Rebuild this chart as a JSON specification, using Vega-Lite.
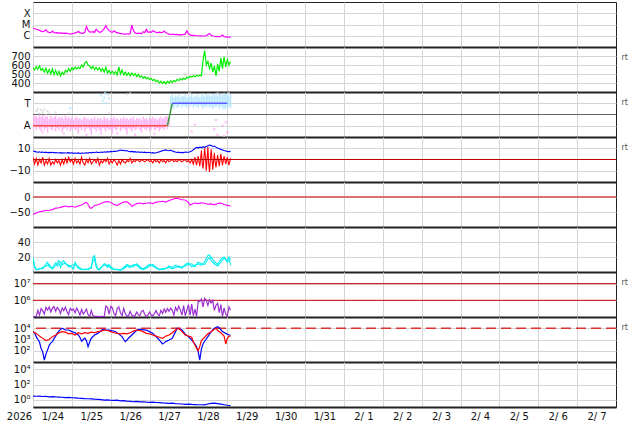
{
"$schema": "https://vega.github.io/schema/vega-lite/v6.json",
"background": "white",
"padding": {"left": 5, "top": 1, "right": 4, "bottom": 0},
"spacing": 0,
"bounds": "flush",
"config": {
 "font": "DejaVu Sans",
 "view": {"stroke": "#222", "strokeWidth": 1},
 "axis": {"labelFont": "DejaVu Sans", "labelFontSize": 10, "labelColor": "#111", "gridColor": "#d4d4d4", "gridWidth": 1, "ticks": false, "tickSize": 0, "labelOverlap": false, "titleFont": "DejaVu Sans"},
 "axisX": {"domain": true, "domainColor": "#222", "domainWidth": 2, "labels": false, "grid": true, "labelFlush": false},
 "axisY": {"domain": false, "labelPadding": 3, "grid": true}
},
"vconcat": [
 {"width": 583, "height": 45,
  "data": {"values": [
{"h":0,"v":4.6e-6},{"h":1,"v":4.2e-6},{"h":2,"v":3.8e-6},{"h":3,"v":3.4e-6},{"h":4,"v":3.0e-6},{"h":5,"v":2.6e-6},{"h":6,"v":2.3e-6},{"h":7,"v":2.5e-6},{"h":8,"v":3.5e-6},{"h":9,"v":2.2e-6},{"h":10,"v":2.0e-6},{"h":11,"v":1.9e-6},{"h":12,"v":2.6e-6},{"h":13,"v":1.9e-6},{"h":14,"v":1.8e-6},{"h":15,"v":1.9e-6},{"h":16,"v":1.7e-6},{"h":17,"v":1.8e-6},{"h":18,"v":1.7e-6},{"h":19,"v":1.6e-6},{"h":20,"v":1.7e-6},{"h":21,"v":1.6e-6},{"h":22,"v":1.5e-6},{"h":23,"v":1.4e-6},{"h":24,"v":1.5e-6},{"h":25,"v":1.6e-6},{"h":26,"v":1.8e-6},{"h":27,"v":2.0e-6},{"h":28,"v":2.4e-6},{"h":29,"v":1.9e-6},{"h":30,"v":1.6e-6},{"h":31,"v":1.7e-6},{"h":32,"v":2.0e-6},{"h":33,"v":6.5e-6},{"h":34,"v":3.0e-6},{"h":35,"v":2.2e-6},{"h":36,"v":2.1e-6},{"h":37,"v":2.3e-6},{"h":38,"v":2.0e-6},{"h":39,"v":3.7e-6},{"h":40,"v":2.6e-6},{"h":41,"v":2.0e-6},{"h":42,"v":2.2e-6},{"h":43,"v":3.0e-6},{"h":44,"v":4.2e-6},{"h":45,"v":7.9e-6},{"h":46,"v":4.0e-6},{"h":47,"v":3.0e-6},{"h":48,"v":2.3e-6},{"h":49,"v":2.0e-6},{"h":50,"v":2.8e-6},{"h":51,"v":2.1e-6},{"h":52,"v":1.9e-6},{"h":53,"v":1.7e-6},{"h":54,"v":1.6e-6},{"h":55,"v":1.5e-6},{"h":56,"v":1.4e-6},{"h":57,"v":1.4e-6},{"h":58,"v":1.5e-6},{"h":59,"v":1.4e-6},{"h":60,"v":1.6e-6},{"h":61,"v":9.0e-6},{"h":62,"v":3.0e-6},{"h":63,"v":1.8e-6},{"h":64,"v":1.6e-6},{"h":65,"v":1.6e-6},{"h":66,"v":1.7e-6},{"h":67,"v":1.5e-6},{"h":68,"v":2.3e-6},{"h":69,"v":1.9e-6},{"h":70,"v":3.7e-6},{"h":71,"v":2.0e-6},{"h":72,"v":2.2e-6},{"h":73,"v":2.0e-6},{"h":74,"v":2.8e-6},{"h":75,"v":2.4e-6},{"h":76,"v":2.0e-6},{"h":77,"v":1.9e-6},{"h":78,"v":2.1e-6},{"h":79,"v":1.9e-6},{"h":80,"v":2.0e-6},{"h":81,"v":2.6e-6},{"h":82,"v":1.9e-6},{"h":83,"v":1.6e-6},{"h":84,"v":1.4e-6},{"h":85,"v":1.3e-6},{"h":86,"v":1.35e-6},{"h":87,"v":1.3e-6},{"h":88,"v":1.25e-6},{"h":89,"v":1.3e-6},{"h":90,"v":1.2e-6},{"h":91,"v":1.25e-6},{"h":92,"v":1.2e-6},{"h":93,"v":1.3e-6},{"h":94,"v":1.4e-6},{"h":95,"v":2.8e-6},{"h":96,"v":1.5e-6},{"h":97,"v":1.2e-6},{"h":98,"v":1.1e-6},{"h":99,"v":1.1e-6},{"h":100,"v":1.05e-6},{"h":101,"v":1.0e-6},{"h":102,"v":1.0e-6},{"h":103,"v":0.95e-6},{"h":104,"v":1.0e-6},{"h":105,"v":0.95e-6},{"h":106,"v":0.95e-6},{"h":107,"v":1.0e-6},{"h":108,"v":1.3e-6},{"h":109,"v":1.6e-6},{"h":110,"v":1.1e-6},{"h":111,"v":0.95e-6},{"h":112,"v":0.9e-6},{"h":113,"v":0.85e-6},{"h":114,"v":0.85e-6},{"h":115,"v":0.85e-6},{"h":116,"v":0.9e-6},{"h":117,"v":1.15e-6},{"h":118,"v":0.85e-6},{"h":119,"v":0.8e-6},{"h":120,"v":0.75e-6},{"h":121,"v":0.75e-6},{"h":122,"v":0.72e-6}
  ]},
  "mark": {"type": "line", "color": "#f0f", "strokeWidth": 1.2, "clip": true},
  "encoding": {
   "x": {"field": "h", "type": "quantitative", "scale": {"domain": [0, 360], "nice": false, "zero": false}, "title": null, "axis": {"values": [0,24,48,72,96,120,144,168,192,216,240,264,288,312,336]}},
   "y": {"field": "v", "type": "quantitative", "title": null, "scale": {"type": "log", "domain": [1e-7, 1e-3], "nice": false}, "axis": {"values": [1e-6, 1e-5, 1e-4], "labelExpr": "datum.value < 5e-6 ? 'C' : datum.value < 5e-5 ? 'M' : 'X'"}}
  }
 },
 {"width": 583, "height": 45,
  "data": {"values": [
{"h":0,"v":570},{"h":1,"v":545},{"h":2,"v":580},{"h":3,"v":555},{"h":4,"v":590},{"h":5,"v":540},{"h":6,"v":560},{"h":7,"v":520},{"h":8,"v":565},{"h":9,"v":510},{"h":10,"v":550},{"h":11,"v":500},{"h":12,"v":555},{"h":13,"v":495},{"h":14,"v":540},{"h":15,"v":490},{"h":16,"v":530},{"h":17,"v":480},{"h":18,"v":520},{"h":19,"v":495},{"h":20,"v":540},{"h":21,"v":520},{"h":22,"v":560},{"h":23,"v":530},{"h":24,"v":570},{"h":25,"v":545},{"h":26,"v":580},{"h":27,"v":555},{"h":28,"v":575},{"h":29,"v":560},{"h":30,"v":600},{"h":31,"v":580},{"h":32,"v":625},{"h":33,"v":640},{"h":34,"v":600},{"h":35,"v":590},{"h":36,"v":560},{"h":37,"v":585},{"h":38,"v":550},{"h":39,"v":575},{"h":40,"v":545},{"h":41,"v":570},{"h":42,"v":530},{"h":43,"v":560},{"h":44,"v":520},{"h":45,"v":575},{"h":46,"v":510},{"h":47,"v":540},{"h":48,"v":505},{"h":49,"v":530},{"h":50,"v":500},{"h":51,"v":525},{"h":52,"v":490},{"h":53,"v":580},{"h":54,"v":500},{"h":55,"v":545},{"h":56,"v":490},{"h":57,"v":520},{"h":58,"v":485},{"h":59,"v":515},{"h":60,"v":480},{"h":61,"v":510},{"h":62,"v":485},{"h":63,"v":505},{"h":64,"v":470},{"h":65,"v":495},{"h":66,"v":465},{"h":67,"v":480},{"h":68,"v":455},{"h":69,"v":470},{"h":70,"v":445},{"h":71,"v":460},{"h":72,"v":440},{"h":73,"v":450},{"h":74,"v":425},{"h":75,"v":440},{"h":76,"v":415},{"h":77,"v":430},{"h":78,"v":400},{"h":79,"v":420},{"h":80,"v":395},{"h":81,"v":415},{"h":82,"v":390},{"h":83,"v":420},{"h":84,"v":400},{"h":85,"v":425},{"h":86,"v":405},{"h":87,"v":430},{"h":88,"v":415},{"h":89,"v":440},{"h":90,"v":425},{"h":91,"v":450},{"h":92,"v":435},{"h":93,"v":455},{"h":94,"v":440},{"h":95,"v":465},{"h":96,"v":455},{"h":97,"v":475},{"h":98,"v":465},{"h":99,"v":480},{"h":100,"v":470},{"h":101,"v":485},{"h":102,"v":475},{"h":103,"v":490},{"h":104,"v":480},{"h":105,"v":650},{"h":106,"v":760},{"h":107,"v":600},{"h":108,"v":640},{"h":109,"v":560},{"h":110,"v":620},{"h":111,"v":520},{"h":112,"v":590},{"h":113,"v":480},{"h":114,"v":610},{"h":115,"v":530},{"h":116,"v":680},{"h":117,"v":560},{"h":118,"v":690},{"h":119,"v":580},{"h":120,"v":660},{"h":121,"v":600},{"h":122,"v":640}
  ]},
  "mark": {"type": "line", "color": "#00ee00", "strokeWidth": 1.2, "clip": true},
  "encoding": {
   "x": {"field": "h", "type": "quantitative", "scale": {"domain": [0, 360], "nice": false, "zero": false}, "title": null, "axis": {"values": [0,24,48,72,96,120,144,168,192,216,240,264,288,312,336]}},
   "y": {"field": "v", "type": "quantitative", "title": "rt", "scale": {"domain": [300, 800], "nice": false, "zero": false}, "axis": {"values": [400, 500, 600, 700], "titleAngle": 0, "titleX": 588, "titleY": 10, "titleAlign": "left", "titleBaseline": "middle", "titleFontSize": 8, "titleColor": "#555", "titleFontWeight": "normal"}}
  }
 },
 {"width": 583, "height": 45,
  "layer": [
   {"data": {"values": [{"v": 0}]},
    "mark": {"type": "rule", "color": "#666", "strokeWidth": 1},
    "encoding": {"y": {"field": "v", "type": "quantitative", "title": "rt", "scale": {"domain": [-2, 2], "nice": false, "zero": false}, "axis": {"values": [-1, 0, 1], "labelExpr": "datum.value > 0.5 ? 'T' : datum.value < -0.5 ? 'A' : ''", "titleAngle": 0, "titleX": 588, "titleY": 10, "titleAlign": "left", "titleBaseline": "middle", "titleFontSize": 8, "titleColor": "#555", "titleFontWeight": "normal"}}}},
   {"data": {"values": [
{"h":0,"lo":-1.3,"hi":-0.1},{"h":1,"lo":-1.1,"hi":-0.2},{"h":2,"lo":-1.4,"hi":-0.1},{"h":3,"lo":-1.0,"hi":-0.3},{"h":4,"lo":-1.3,"hi":-0.1},{"h":5,"lo":-1.5,"hi":-0.2},{"h":6,"lo":-1.1,"hi":-0.05},{"h":7,"lo":-1.4,"hi":-0.3},{"h":8,"lo":-1.2,"hi":-0.1},{"h":9,"lo":-1.6,"hi":-0.2},{"h":10,"lo":-1.0,"hi":-0.4},{"h":11,"lo":-1.3,"hi":-0.1},{"h":12,"lo":-1.4,"hi":-0.3},{"h":13,"lo":-1.1,"hi":-0.2},{"h":14,"lo":-1.5,"hi":-0.1},{"h":15,"lo":-1.2,"hi":-0.4},{"h":16,"lo":-1.4,"hi":-0.2},{"h":17,"lo":-1.1,"hi":-0.3},{"h":18,"lo":-1.6,"hi":-0.2},{"h":19,"lo":-1.3,"hi":-0.4},{"h":20,"lo":-1.2,"hi":-0.1},{"h":21,"lo":-1.4,"hi":-0.3},{"h":22,"lo":-1.1,"hi":-0.2},{"h":23,"lo":-1.5,"hi":-0.4},{"h":24,"lo":-1.3,"hi":-0.2},{"h":25,"lo":-1.2,"hi":-0.5},{"h":26,"lo":-1.4,"hi":-0.3},{"h":27,"lo":-1.3,"hi":-0.2},{"h":28,"lo":-1.7,"hi":-0.4},{"h":29,"lo":-1.2,"hi":-0.3},{"h":30,"lo":-1.4,"hi":-0.5},{"h":31,"lo":-1.1,"hi":-0.3},{"h":32,"lo":-1.5,"hi":-0.2},{"h":33,"lo":-1.3,"hi":-0.4},{"h":34,"lo":-1.2,"hi":-0.3},{"h":35,"lo":-1.4,"hi":-0.5},{"h":36,"lo":-1.8,"hi":-0.3},{"h":37,"lo":-1.2,"hi":-0.4},{"h":38,"lo":-1.3,"hi":-0.2},{"h":39,"lo":-1.5,"hi":-0.5},{"h":40,"lo":-1.2,"hi":-0.3},{"h":41,"lo":-1.4,"hi":-0.4},{"h":42,"lo":-1.8,"hi":-0.3},{"h":43,"lo":-1.2,"hi":-0.5},{"h":44,"lo":-1.3,"hi":-0.2},{"h":45,"lo":-1.5,"hi":-0.4},{"h":46,"lo":-1.2,"hi":-0.3},{"h":47,"lo":-1.4,"hi":-0.5},{"h":48,"lo":-1.3,"hi":-0.3},{"h":49,"lo":-1.7,"hi":-0.4},{"h":50,"lo":-1.2,"hi":-0.2},{"h":51,"lo":-1.4,"hi":-0.4},{"h":52,"lo":-1.3,"hi":-0.3},{"h":53,"lo":-1.1,"hi":-0.5},{"h":54,"lo":-1.5,"hi":-0.3},{"h":55,"lo":-1.3,"hi":-0.4},{"h":56,"lo":-1.2,"hi":-0.2},{"h":57,"lo":-1.4,"hi":-0.4},{"h":58,"lo":-1.8,"hi":-0.3},{"h":59,"lo":-1.2,"hi":-0.5},{"h":60,"lo":-1.3,"hi":-0.3},{"h":61,"lo":-1.5,"hi":-0.4},{"h":62,"lo":-1.2,"hi":-0.2},{"h":63,"lo":-1.4,"hi":-0.5},{"h":64,"lo":-1.3,"hi":-0.3},{"h":65,"lo":-1.1,"hi":-0.4},{"h":66,"lo":-1.4,"hi":-0.3},{"h":67,"lo":-1.6,"hi":-0.5},{"h":68,"lo":-1.2,"hi":-0.2},{"h":69,"lo":-1.3,"hi":-0.4},{"h":70,"lo":-1.4,"hi":-0.3},{"h":71,"lo":-1.2,"hi":-0.5},{"h":72,"lo":-1.5,"hi":-0.3},{"h":73,"lo":-1.3,"hi":-0.4},{"h":74,"lo":-1.1,"hi":-0.2},{"h":75,"lo":-1.4,"hi":-0.4},{"h":76,"lo":-1.3,"hi":-0.3},{"h":77,"lo":-1.2,"hi":-0.5},{"h":78,"lo":-1.5,"hi":-0.3},{"h":79,"lo":-1.3,"hi":-0.2},{"h":80,"lo":-1.2,"hi":-0.4},{"h":81,"lo":-1.4,"hi":-0.3},{"h":82,"lo":-1.1,"hi":-0.1},{"h":83,"lo":-1.3,"hi":-0.2},{"h":84,"lo":-1.0,"hi":-0.3}
    ]},
    "mark": {"type": "rule", "color": "#ffaaf5", "strokeWidth": 1.4, "opacity": 0.9, "clip": true},
    "encoding": {
     "x": {"field": "h", "type": "quantitative", "scale": {"domain": [0, 360], "nice": false, "zero": false}, "title": null, "axis": {"values": [0,24,48,72,96,120,144,168,192,216,240,264,288,312,336]}},
     "y": {"field": "lo", "type": "quantitative", "title": "rt", "scale": {"domain": [-2, 2], "nice": false, "zero": false}},
     "y2": {"field": "hi"}}},
   {"data": {"values": [
{"h":85,"lo":0.6,"hi":1.6},{"h":86,"lo":0.7,"hi":1.8},{"h":87,"lo":0.5,"hi":1.5},{"h":88,"lo":0.8,"hi":1.7},{"h":89,"lo":0.6,"hi":1.6},{"h":90,"lo":0.7,"hi":1.8},{"h":91,"lo":0.9,"hi":1.5},{"h":92,"lo":0.6,"hi":1.7},{"h":93,"lo":0.8,"hi":1.6},{"h":94,"lo":0.7,"hi":1.8},{"h":95,"lo":0.6,"hi":1.5},{"h":96,"lo":0.8,"hi":1.7},{"h":97,"lo":0.7,"hi":1.6},{"h":98,"lo":0.9,"hi":1.8},{"h":99,"lo":0.6,"hi":1.5},{"h":100,"lo":0.8,"hi":1.7},{"h":101,"lo":0.7,"hi":1.6},{"h":102,"lo":0.6,"hi":1.8},{"h":103,"lo":0.8,"hi":1.5},{"h":104,"lo":0.7,"hi":1.7},{"h":105,"lo":0.5,"hi":1.9},{"h":106,"lo":0.7,"hi":1.6},{"h":107,"lo":0.6,"hi":1.8},{"h":108,"lo":0.8,"hi":1.7},{"h":109,"lo":0.6,"hi":1.9},{"h":110,"lo":0.7,"hi":1.6},{"h":111,"lo":0.5,"hi":1.8},{"h":112,"lo":0.7,"hi":1.7},{"h":113,"lo":0.6,"hi":1.9},{"h":114,"lo":0.8,"hi":1.6},{"h":115,"lo":0.5,"hi":1.8},{"h":116,"lo":0.7,"hi":1.9},{"h":117,"lo":0.6,"hi":1.7},{"h":118,"lo":0.4,"hi":1.9},{"h":119,"lo":0.6,"hi":1.8},{"h":120,"lo":0.5,"hi":1.9},{"h":121,"lo":0.7,"hi":1.7},{"h":122,"lo":0.6,"hi":1.8}
    ]},
    "mark": {"type": "rule", "color": "#b0e4ff", "strokeWidth": 1.4, "opacity": 0.9, "clip": true},
    "encoding": {
     "x": {"field": "h", "type": "quantitative", "scale": {"domain": [0, 360], "nice": false, "zero": false}, "title": null, "axis": {"values": [0,24,48,72,96,120,144,168,192,216,240,264,288,312,336]}},
     "y": {"field": "lo", "type": "quantitative", "title": "rt", "scale": {"domain": [-2, 2], "nice": false, "zero": false}},
     "y2": {"field": "hi"}}},
   {"data": {"values": [
{"h":2,"v":0.3},{"h":3,"v":0.5},{"h":4,"v":0.1},{"h":5,"v":0.4},{"h":6,"v":0.2},{"h":7,"v":0.45},{"h":8,"v":0.0},{"h":9,"v":0.3},{"h":10,"v":0.1},{"h":14,"v":0.2},{"h":22,"v":0.1},{"h":47,"v":0.1},{"h":58,"v":1.8},{"h":60,"v":1.9},{"h":97,"v":1.9},{"h":114,"v":1.9},{"h":118,"v":1.85},{"h":121,"v":1.9}
    ]},
    "mark": {"type": "square", "color": "#cfcfcf", "size": 4, "clip": true},
    "encoding": {
     "x": {"field": "h", "type": "quantitative", "scale": {"domain": [0, 360], "nice": false, "zero": false}, "title": null, "axis": {"values": [0,24,48,72,96,120,144,168,192,216,240,264,288,312,336]}},
     "y": {"field": "v", "type": "quantitative", "title": "rt", "scale": {"domain": [-2, 2], "nice": false, "zero": false}}}},
   {"data": {"values": [
{"h":23,"v":0.55},{"h":42,"v":1.7},{"h":43,"v":1.2},{"h":44,"v":1.5},{"h":44.5,"v":1.9},{"h":45,"v":1.0},{"h":46,"v":1.8},{"h":47,"v":1.4}
    ]},
    "mark": {"type": "square", "color": "#a6e2ff", "size": 5, "clip": true},
    "encoding": {
     "x": {"field": "h", "type": "quantitative", "scale": {"domain": [0, 360], "nice": false, "zero": false}, "title": null, "axis": {"values": [0,24,48,72,96,120,144,168,192,216,240,264,288,312,336]}},
     "y": {"field": "v", "type": "quantitative", "title": "rt", "scale": {"domain": [-2, 2], "nice": false, "zero": false}}}},
   {"data": {"values": [
{"h":6,"v":-1.6},{"h":19,"v":-1.7},{"h":33,"v":-1.8},{"h":52,"v":-1.7},{"h":63,"v":-1.8},{"h":75,"v":-1.7},{"h":98,"v":-1.5},{"h":100,"v":-0.9},{"h":112,"v":-1.3},{"h":113,"v":-0.5},{"h":114,"v":-1.8},{"h":117,"v":-1.0},{"h":118,"v":-1.9},{"h":119,"v":-0.7},{"h":120,"v":-1.6}
    ]},
    "mark": {"type": "square", "color": "#ffaaf5", "size": 5, "clip": true},
    "encoding": {
     "x": {"field": "h", "type": "quantitative", "scale": {"domain": [0, 360], "nice": false, "zero": false}, "title": null, "axis": {"values": [0,24,48,72,96,120,144,168,192,216,240,264,288,312,336]}},
     "y": {"field": "v", "type": "quantitative", "title": "rt", "scale": {"domain": [-2, 2], "nice": false, "zero": false}}}},
   {"data": {"values": [{"h":0,"v":-1},{"h":83,"v":-1}]},
    "mark": {"type": "line", "color": "#ff4a4a", "strokeWidth": 1.5},
    "encoding": {
     "x": {"field": "h", "type": "quantitative", "scale": {"domain": [0, 360], "nice": false, "zero": false}, "title": null, "axis": {"values": [0,24,48,72,96,120,144,168,192,216,240,264,288,312,336]}},
     "y": {"field": "v", "type": "quantitative", "title": "rt", "scale": {"domain": [-2, 2], "nice": false, "zero": false}}}},
   {"data": {"values": [{"h":83,"v":-1},{"h":86,"v":1}]},
    "mark": {"type": "line", "color": "#3d9b3d", "strokeWidth": 1.5},
    "encoding": {
     "x": {"field": "h", "type": "quantitative", "scale": {"domain": [0, 360], "nice": false, "zero": false}, "title": null, "axis": {"values": [0,24,48,72,96,120,144,168,192,216,240,264,288,312,336]}},
     "y": {"field": "v", "type": "quantitative", "title": "rt", "scale": {"domain": [-2, 2], "nice": false, "zero": false}}}},
   {"data": {"values": [{"h":86,"v":1},{"h":120,"v":1}]},
    "mark": {"type": "line", "color": "#5a5aff", "strokeWidth": 1.5},
    "encoding": {
     "x": {"field": "h", "type": "quantitative", "scale": {"domain": [0, 360], "nice": false, "zero": false}, "title": null, "axis": {"values": [0,24,48,72,96,120,144,168,192,216,240,264,288,312,336]}},
     "y": {"field": "v", "type": "quantitative", "title": "rt", "scale": {"domain": [-2, 2], "nice": false, "zero": false}}}}
  ]
 },
 {"width": 583, "height": 45,
  "layer": [
   {"data": {"values": [
{"h":0,"v":7.5},{"h":1,"v":7.2},{"h":2,"v":6.8},{"h":3,"v":6.5},{"h":4,"v":6.8},{"h":5,"v":6.3},{"h":6,"v":6.6},{"h":7,"v":6.2},{"h":8,"v":6.5},{"h":9,"v":6.0},{"h":10,"v":6.3},{"h":11,"v":6.1},{"h":12,"v":6.4},{"h":13,"v":5.9},{"h":14,"v":6.2},{"h":15,"v":6.0},{"h":16,"v":5.8},{"h":17,"v":6.1},{"h":18,"v":5.7},{"h":19,"v":6.0},{"h":20,"v":5.8},{"h":21,"v":5.9},{"h":22,"v":6.1},{"h":23,"v":5.7},{"h":24,"v":6.0},{"h":25,"v":5.5},{"h":26,"v":5.8},{"h":27,"v":5.6},{"h":28,"v":5.9},{"h":29,"v":5.4},{"h":30,"v":5.7},{"h":31,"v":5.5},{"h":32,"v":5.8},{"h":33,"v":6.0},{"h":34,"v":5.7},{"h":35,"v":6.2},{"h":36,"v":5.9},{"h":37,"v":6.4},{"h":38,"v":6.0},{"h":39,"v":6.6},{"h":40,"v":6.3},{"h":41,"v":6.2},{"h":42,"v":6.6},{"h":43,"v":6.3},{"h":44,"v":6.8},{"h":45,"v":6.5},{"h":46,"v":7.0},{"h":47,"v":6.7},{"h":48,"v":7.2},{"h":49,"v":6.9},{"h":50,"v":7.4},{"h":51,"v":7.1},{"h":52,"v":7.6},{"h":53,"v":7.9},{"h":54,"v":8.4},{"h":55,"v":8.0},{"h":56,"v":8.2},{"h":57,"v":7.6},{"h":58,"v":7.9},{"h":59,"v":7.3},{"h":60,"v":7.0},{"h":61,"v":7.2},{"h":62,"v":6.8},{"h":63,"v":7.0},{"h":64,"v":6.5},{"h":65,"v":6.8},{"h":66,"v":6.3},{"h":67,"v":6.6},{"h":68,"v":6.2},{"h":69,"v":6.5},{"h":70,"v":6.0},{"h":71,"v":6.4},{"h":72,"v":6.2},{"h":73,"v":5.8},{"h":74,"v":6.1},{"h":75,"v":5.7},{"h":76,"v":6.0},{"h":77,"v":6.5},{"h":78,"v":6.8},{"h":79,"v":7.4},{"h":80,"v":7.9},{"h":81,"v":8.2},{"h":82,"v":8.5},{"h":83,"v":8.0},{"h":84,"v":7.8},{"h":85,"v":8.3},{"h":86,"v":7.6},{"h":87,"v":7.0},{"h":88,"v":6.6},{"h":89,"v":6.2},{"h":90,"v":6.5},{"h":91,"v":6.0},{"h":92,"v":6.3},{"h":93,"v":6.1},{"h":94,"v":6.6},{"h":95,"v":6.4},{"h":96,"v":6.5},{"h":97,"v":6.8},{"h":98,"v":7.5},{"h":99,"v":8.5},{"h":100,"v":9.8},{"h":101,"v":10.8},{"h":102,"v":10.4},{"h":103,"v":11.0},{"h":104,"v":10.6},{"h":105,"v":11.2},{"h":106,"v":10.8},{"h":107,"v":11.5},{"h":108,"v":12.2},{"h":109,"v":12.8},{"h":110,"v":12.4},{"h":111,"v":11.6},{"h":112,"v":12.0},{"h":113,"v":11.0},{"h":114,"v":10.2},{"h":115,"v":9.5},{"h":116,"v":9.0},{"h":117,"v":8.5},{"h":118,"v":8.0},{"h":119,"v":7.6},{"h":120,"v":7.2},{"h":121,"v":7.0},{"h":122,"v":7.2}
    ]},
    "mark": {"type": "line", "color": "#0000ff", "strokeWidth": 1.1, "clip": true},
    "encoding": {
     "x": {"field": "h", "type": "quantitative", "scale": {"domain": [0, 360], "nice": false, "zero": false}, "title": null, "axis": {"values": [0,24,48,72,96,120,144,168,192,216,240,264,288,312,336]}},
     "y": {"field": "v", "type": "quantitative", "title": "rt", "scale": {"domain": [-20, 20], "nice": false, "zero": false}, "axis": {"values": [-10, 0, 10], "titleAngle": 0, "titleX": 588, "titleY": 10, "titleAlign": "left", "titleBaseline": "middle", "titleFontSize": 8, "titleColor": "#555", "titleFontWeight": "normal"}}}},
   {"data": {"values": [
{"h":0,"v":2},{"h":1,"v":-4},{"h":2,"v":1},{"h":3,"v":-5},{"h":4,"v":0},{"h":5,"v":-3},{"h":6,"v":2},{"h":7,"v":-5},{"h":8,"v":-1},{"h":9,"v":-4},{"h":10,"v":1},{"h":11,"v":-5},{"h":12,"v":-2},{"h":13,"v":-4},{"h":14,"v":0},{"h":15,"v":-3},{"h":16,"v":-1},{"h":17,"v":-5},{"h":18,"v":0},{"h":19,"v":-4},{"h":20,"v":1},{"h":21,"v":-3},{"h":22,"v":2},{"h":23,"v":-2},{"h":24,"v":0},{"h":25,"v":-4},{"h":26,"v":1},{"h":27,"v":-3},{"h":28,"v":-1},{"h":29,"v":-4},{"h":30,"v":2},{"h":31,"v":-3},{"h":32,"v":-5},{"h":33,"v":0},{"h":34,"v":-3},{"h":35,"v":1},{"h":36,"v":-4},{"h":37,"v":-2},{"h":38,"v":0},{"h":39,"v":-3},{"h":40,"v":1},{"h":41,"v":-5},{"h":42,"v":-1},{"h":43,"v":-3},{"h":44,"v":0},{"h":45,"v":-2},{"h":46,"v":1},{"h":47,"v":-4},{"h":48,"v":-1},{"h":49,"v":-3},{"h":50,"v":0},{"h":51,"v":-2},{"h":52,"v":-5},{"h":53,"v":-1},{"h":54,"v":-4},{"h":55,"v":0},{"h":56,"v":-2},{"h":57,"v":-3},{"h":58,"v":-1},{"h":59,"v":-2},{"h":60,"v":1},{"h":61,"v":-3},{"h":62,"v":-1},{"h":63,"v":-2},{"h":64,"v":0},{"h":65,"v":-1},{"h":66,"v":-2},{"h":67,"v":0},{"h":68,"v":-1},{"h":69,"v":-2},{"h":70,"v":-1},{"h":71,"v":0},{"h":72,"v":-2},{"h":73,"v":-1},{"h":74,"v":-3},{"h":75,"v":0},{"h":76,"v":-2},{"h":77,"v":-1},{"h":78,"v":-3},{"h":79,"v":0},{"h":80,"v":-2},{"h":81,"v":-1},{"h":82,"v":-3},{"h":83,"v":0},{"h":84,"v":-2},{"h":85,"v":-1},{"h":86,"v":0},{"h":87,"v":-2},{"h":88,"v":-1},{"h":89,"v":-2},{"h":90,"v":0},{"h":91,"v":-1},{"h":92,"v":-2},{"h":93,"v":-1},{"h":94,"v":0},{"h":95,"v":-2},{"h":96,"v":-1},{"h":97,"v":-3},{"h":98,"v":0},{"h":99,"v":-4},{"h":100,"v":2},{"h":101,"v":-5},{"h":102,"v":3},{"h":103,"v":-6},{"h":104,"v":8},{"h":104.5,"v":-3},{"h":105,"v":-8},{"h":106,"v":10},{"h":106.5,"v":2},{"h":107,"v":-10},{"h":108,"v":11},{"h":108.5,"v":-4},{"h":109,"v":-11},{"h":110,"v":9},{"h":110.5,"v":1},{"h":111,"v":-9},{"h":112,"v":6},{"h":112.5,"v":-2},{"h":113,"v":-7},{"h":114,"v":4},{"h":115,"v":-6},{"h":116,"v":5},{"h":117,"v":-5},{"h":118,"v":3},{"h":119,"v":-4},{"h":120,"v":2},{"h":121,"v":-5},{"h":122,"v":1}
    ]},
    "mark": {"type": "line", "color": "#ff0000", "strokeWidth": 1.1, "clip": true},
    "encoding": {
     "x": {"field": "h", "type": "quantitative", "scale": {"domain": [0, 360], "nice": false, "zero": false}, "title": null, "axis": {"values": [0,24,48,72,96,120,144,168,192,216,240,264,288,312,336]}},
     "y": {"field": "v", "type": "quantitative", "title": "rt", "scale": {"domain": [-20, 20], "nice": false, "zero": false}}}},
   {"data": {"values": [{"v": 0}]},
    "mark": {"type": "rule", "color": "#c00000", "strokeWidth": 1},
    "encoding": {"y": {"field": "v", "type": "quantitative", "title": "rt", "scale": {"domain": [-20, 20], "nice": false, "zero": false}}}}
  ]
 },
 {"width": 583, "height": 45,
  "layer": [
   {"data": {"values": [{"v": 0}]},
    "mark": {"type": "rule", "color": "#d87070", "strokeWidth": 2},
    "encoding": {"y": {"field": "v", "type": "quantitative", "title": null, "scale": {"domain": [-100, 50], "nice": false, "zero": false}, "axis": {"values": [-50, 0]}}}},
   {"data": {"values": [
{"h":0,"v":-58},{"h":2,"v":-53},{"h":4,"v":-49},{"h":6,"v":-47},{"h":8,"v":-45},{"h":10,"v":-44},{"h":12,"v":-42},{"h":14,"v":-37},{"h":16,"v":-36},{"h":18,"v":-33},{"h":20,"v":-30},{"h":22,"v":-33},{"h":24,"v":-31},{"h":26,"v":-34},{"h":28,"v":-30},{"h":30,"v":-27},{"h":32,"v":-20},{"h":33,"v":-18},{"h":34,"v":-24},{"h":35,"v":-35},{"h":36,"v":-38},{"h":37,"v":-33},{"h":38,"v":-28},{"h":40,"v":-26},{"h":42,"v":-22},{"h":44,"v":-17},{"h":46,"v":-15},{"h":48,"v":-18},{"h":50,"v":-25},{"h":52,"v":-28},{"h":54,"v":-22},{"h":56,"v":-17},{"h":58,"v":-16},{"h":60,"v":-24},{"h":61,"v":-31},{"h":62,"v":-28},{"h":64,"v":-22},{"h":66,"v":-20},{"h":68,"v":-23},{"h":70,"v":-21},{"h":72,"v":-19},{"h":74,"v":-22},{"h":76,"v":-17},{"h":78,"v":-16},{"h":80,"v":-14},{"h":82,"v":-17},{"h":84,"v":-12},{"h":86,"v":-8},{"h":88,"v":-4},{"h":90,"v":-6},{"h":92,"v":-9},{"h":94,"v":-10},{"h":96,"v":-18},{"h":97,"v":-27},{"h":98,"v":-24},{"h":100,"v":-20},{"h":102,"v":-22},{"h":104,"v":-19},{"h":106,"v":-21},{"h":108,"v":-24},{"h":110,"v":-23},{"h":112,"v":-26},{"h":114,"v":-22},{"h":116,"v":-20},{"h":118,"v":-25},{"h":120,"v":-28},{"h":122,"v":-30}
    ]},
    "mark": {"type": "line", "color": "#f0f", "strokeWidth": 1.1, "clip": true},
    "encoding": {
     "x": {"field": "h", "type": "quantitative", "scale": {"domain": [0, 360], "nice": false, "zero": false}, "title": null, "axis": {"values": [0,24,48,72,96,120,144,168,192,216,240,264,288,312,336]}},
     "y": {"field": "v", "type": "quantitative", "title": null, "scale": {"domain": [-100, 50], "nice": false, "zero": false}}}}
  ]
 },
 {"width": 583, "height": 45,
  "layer": [
   {"data": {"values": [
{"h":0,"v":20},{"h":1,"v":8},{"h":2,"v":4},{"h":3,"v":3},{"h":4,"v":5},{"h":6,"v":4},{"h":8,"v":11},{"h":9,"v":13},{"h":10,"v":7},{"h":12,"v":5},{"h":13,"v":9},{"h":14,"v":12},{"h":15,"v":8},{"h":16,"v":12},{"h":17,"v":6},{"h":18,"v":14},{"h":19,"v":15},{"h":20,"v":11},{"h":22,"v":9},{"h":24,"v":6},{"h":25,"v":4},{"h":26,"v":13},{"h":27,"v":9},{"h":28,"v":7},{"h":30,"v":4},{"h":32,"v":3},{"h":34,"v":4},{"h":36,"v":5},{"h":37,"v":20},{"h":38,"v":22},{"h":39,"v":10},{"h":40,"v":4},{"h":41,"v":3},{"h":43,"v":8},{"h":45,"v":9},{"h":46,"v":6},{"h":47,"v":10},{"h":48,"v":7},{"h":50,"v":4},{"h":52,"v":3},{"h":54,"v":3},{"h":56,"v":4},{"h":58,"v":8},{"h":60,"v":6},{"h":62,"v":10},{"h":64,"v":9},{"h":66,"v":5},{"h":68,"v":3},{"h":70,"v":5},{"h":72,"v":8},{"h":74,"v":10},{"h":76,"v":6},{"h":78,"v":4},{"h":80,"v":3},{"h":82,"v":5},{"h":84,"v":6},{"h":86,"v":4},{"h":88,"v":6},{"h":90,"v":8},{"h":92,"v":5},{"h":94,"v":10},{"h":96,"v":12},{"h":98,"v":7},{"h":100,"v":9},{"h":102,"v":11},{"h":104,"v":9},{"h":106,"v":14},{"h":108,"v":22},{"h":109,"v":23},{"h":110,"v":15},{"h":112,"v":11},{"h":114,"v":8},{"h":116,"v":13},{"h":118,"v":18},{"h":120,"v":16},{"h":121,"v":20},{"h":122,"v":9}
    ]},
    "mark": {"type": "line", "color": "#00f0f0", "strokeWidth": 1.1, "clip": true},
    "encoding": {
     "x": {"field": "h", "type": "quantitative", "scale": {"domain": [0, 360], "nice": false, "zero": false}, "title": null, "axis": {"values": [0,24,48,72,96,120,144,168,192,216,240,264,288,312,336]}},
     "y": {"field": "v", "type": "quantitative", "title": null, "scale": {"domain": [0, 60], "nice": false, "zero": false}, "axis": {"values": [20, 40]}}}},
   {"data": {"values": [
{"h":0,"v":18},{"h":1,"v":6},{"h":2,"v":3},{"h":4,"v":4},{"h":6,"v":6},{"h":8,"v":8},{"h":10,"v":10},{"h":12,"v":4},{"h":14,"v":9},{"h":16,"v":15},{"h":18,"v":10},{"h":20,"v":12},{"h":22,"v":7},{"h":24,"v":9},{"h":26,"v":10},{"h":28,"v":5},{"h":30,"v":3},{"h":32,"v":4},{"h":34,"v":3},{"h":36,"v":7},{"h":37,"v":14},{"h":38,"v":18},{"h":39,"v":7},{"h":40,"v":3},{"h":42,"v":6},{"h":44,"v":11},{"h":46,"v":9},{"h":48,"v":5},{"h":50,"v":3},{"h":52,"v":4},{"h":54,"v":2},{"h":56,"v":6},{"h":58,"v":10},{"h":60,"v":8},{"h":62,"v":7},{"h":64,"v":11},{"h":66,"v":7},{"h":68,"v":4},{"h":70,"v":7},{"h":72,"v":10},{"h":74,"v":8},{"h":76,"v":5},{"h":78,"v":3},{"h":80,"v":5},{"h":82,"v":4},{"h":84,"v":8},{"h":86,"v":6},{"h":88,"v":9},{"h":90,"v":6},{"h":92,"v":7},{"h":94,"v":8},{"h":96,"v":10},{"h":98,"v":11},{"h":100,"v":7},{"h":102,"v":13},{"h":104,"v":11},{"h":106,"v":10},{"h":108,"v":17},{"h":110,"v":20},{"h":112,"v":14},{"h":114,"v":10},{"h":116,"v":17},{"h":118,"v":20},{"h":120,"v":13},{"h":122,"v":18}
    ]},
    "mark": {"type": "line", "color": "#00f0f0", "strokeWidth": 1.1, "clip": true},
    "encoding": {
     "x": {"field": "h", "type": "quantitative", "scale": {"domain": [0, 360], "nice": false, "zero": false}, "title": null, "axis": {"values": [0,24,48,72,96,120,144,168,192,216,240,264,288,312,336]}},
     "y": {"field": "v", "type": "quantitative", "title": null, "scale": {"domain": [0, 60], "nice": false, "zero": false}}}}
  ]
 },
 {"width": 583, "height": 45,
  "layer": [
   {"data": {"values": [{"v": 1000000}, {"v": 10000000}]},
    "mark": {"type": "rule", "color": "#cc0000", "strokeWidth": 1},
    "encoding": {"y": {"field": "v", "type": "quantitative", "title": "rt", "scale": {"type": "log", "domain": [1e5, 5e7], "nice": false}, "axis": {"values": [1e6, 1e7], "labelExpr": "'10' + ['⁰','¹','²','³','⁴','⁵','⁶','⁷','⁸'][round(log(datum.value) / LN10)]", "titleAngle": 0, "titleX": 588, "titleY": 10, "titleAlign": "left", "titleBaseline": "middle", "titleFontSize": 8, "titleColor": "#555", "titleFontWeight": "normal"}}}},
   {"data": {"values": [
{"h":0,"v":105000},{"h":1,"v":105000},{"h":2,"v":110000},{"h":3,"v":250000},{"h":4,"v":130000},{"h":5,"v":320000},{"h":6,"v":240000},{"h":7,"v":150000},{"h":8,"v":380000},{"h":9,"v":260000},{"h":10,"v":400000},{"h":11,"v":200000},{"h":12,"v":350000},{"h":13,"v":420000},{"h":14,"v":220000},{"h":15,"v":380000},{"h":16,"v":290000},{"h":17,"v":160000},{"h":18,"v":350000},{"h":19,"v":240000},{"h":20,"v":390000},{"h":21,"v":210000},{"h":22,"v":140000},{"h":23,"v":330000},{"h":24,"v":250000},{"h":25,"v":300000},{"h":26,"v":180000},{"h":27,"v":340000},{"h":28,"v":220000},{"h":29,"v":130000},{"h":30,"v":280000},{"h":31,"v":150000},{"h":32,"v":200000},{"h":33,"v":300000},{"h":34,"v":140000},{"h":35,"v":110000},{"h":36,"v":250000},{"h":37,"v":120000},{"h":38,"v":110000},{"h":39,"v":110000},{"h":40,"v":110000},{"h":41,"v":105000},{"h":42,"v":110000},{"h":43,"v":105000},{"h":44,"v":110000},{"h":45,"v":450000},{"h":46,"v":380000},{"h":47,"v":150000},{"h":48,"v":430000},{"h":49,"v":350000},{"h":50,"v":160000},{"h":51,"v":120000},{"h":52,"v":320000},{"h":53,"v":400000},{"h":54,"v":180000},{"h":55,"v":120000},{"h":56,"v":330000},{"h":57,"v":160000},{"h":58,"v":110000},{"h":59,"v":120000},{"h":60,"v":220000},{"h":61,"v":130000},{"h":62,"v":110000},{"h":63,"v":120000},{"h":64,"v":200000},{"h":65,"v":140000},{"h":66,"v":120000},{"h":67,"v":220000},{"h":68,"v":250000},{"h":69,"v":140000},{"h":70,"v":110000},{"h":71,"v":130000},{"h":72,"v":200000},{"h":73,"v":130000},{"h":74,"v":120000},{"h":75,"v":160000},{"h":76,"v":240000},{"h":77,"v":150000},{"h":78,"v":120000},{"h":79,"v":250000},{"h":80,"v":160000},{"h":81,"v":300000},{"h":82,"v":190000},{"h":83,"v":320000},{"h":84,"v":220000},{"h":85,"v":340000},{"h":86,"v":250000},{"h":87,"v":130000},{"h":88,"v":380000},{"h":89,"v":240000},{"h":90,"v":450000},{"h":91,"v":260000},{"h":92,"v":130000},{"h":93,"v":480000},{"h":94,"v":120000},{"h":95,"v":250000},{"h":96,"v":550000},{"h":97,"v":130000},{"h":98,"v":600000},{"h":99,"v":120000},{"h":100,"v":300000},{"h":101,"v":110000},{"h":102,"v":900000},{"h":103,"v":850000},{"h":104,"v":1200000},{"h":105,"v":400000},{"h":106,"v":1300000},{"h":107,"v":1000000},{"h":108,"v":500000},{"h":109,"v":1100000},{"h":110,"v":700000},{"h":111,"v":1000000},{"h":112,"v":250000},{"h":113,"v":500000},{"h":114,"v":650000},{"h":115,"v":180000},{"h":116,"v":550000},{"h":117,"v":110000},{"h":118,"v":350000},{"h":119,"v":150000},{"h":120,"v":110000},{"h":121,"v":400000},{"h":122,"v":250000}
    ]},
    "mark": {"type": "line", "color": "#9b30d0", "strokeWidth": 1.2, "clip": true},
    "encoding": {
     "x": {"field": "h", "type": "quantitative", "scale": {"domain": [0, 360], "nice": false, "zero": false}, "title": null, "axis": {"values": [0,24,48,72,96,120,144,168,192,216,240,264,288,312,336]}},
     "y": {"field": "v", "type": "quantitative", "title": "rt", "scale": {"type": "log", "domain": [1e5, 5e7], "nice": false}}}}
  ]
 },
 {"width": 583, "height": 45,
  "layer": [
   {"data": {"values": [{"v": 10000}]},
    "mark": {"type": "rule", "color": "#dd3333", "strokeWidth": 1.5, "strokeDash": [10, 5]},
    "encoding": {"y": {"field": "v", "type": "quantitative", "title": "rt", "scale": {"type": "log", "domain": [10, 1e5], "nice": false}, "axis": {"values": [100, 1000, 10000], "labelExpr": "'10' + ['⁰','¹','²','³','⁴','⁵','⁶','⁷','⁸'][round(log(datum.value) / LN10)]", "titleAngle": 0, "titleX": 588, "titleY": 10, "titleAlign": "left", "titleBaseline": "middle", "titleFontSize": 8, "titleColor": "#555", "titleFontWeight": "normal"}}}},
   {"data": {"values": [
{"h":0,"v":4900},{"h":1,"v":4000},{"h":2,"v":1800},{"h":3,"v":1000},{"h":4,"v":600},{"h":5,"v":160},{"h":6,"v":80},{"h":7,"v":15},{"h":8,"v":50},{"h":9,"v":120},{"h":10,"v":300},{"h":11,"v":500},{"h":12,"v":650},{"h":13,"v":1200},{"h":14,"v":2000},{"h":15,"v":3500},{"h":16,"v":5500},{"h":17,"v":8000},{"h":18,"v":10000},{"h":20,"v":7000},{"h":22,"v":7000},{"h":24,"v":5000},{"h":26,"v":4000},{"h":28,"v":2500},{"h":29,"v":1500},{"h":30,"v":700},{"h":31,"v":1000},{"h":32,"v":1300},{"h":33,"v":800},{"h":34,"v":230},{"h":35,"v":600},{"h":36,"v":1300},{"h":38,"v":2500},{"h":40,"v":3500},{"h":42,"v":6000},{"h":43,"v":8000},{"h":45,"v":7000},{"h":47,"v":6900},{"h":49,"v":6000},{"h":51,"v":4900},{"h":53,"v":3000},{"h":55,"v":1800},{"h":56,"v":1000},{"h":57,"v":650},{"h":58,"v":900},{"h":59,"v":1300},{"h":61,"v":2500},{"h":63,"v":4900},{"h":65,"v":8000},{"h":67,"v":7500},{"h":70,"v":6900},{"h":72,"v":5000},{"h":74,"v":3500},{"h":76,"v":1800},{"h":78,"v":900},{"h":80,"v":400},{"h":81,"v":500},{"h":82,"v":650},{"h":84,"v":900},{"h":86,"v":1300},{"h":88,"v":5000},{"h":89,"v":10000},{"h":91,"v":8000},{"h":92,"v":6900},{"h":94,"v":3000},{"h":96,"v":1800},{"h":98,"v":900},{"h":100,"v":400},{"h":101,"v":230},{"h":102,"v":80},{"h":103,"v":15},{"h":104,"v":150},{"h":105,"v":400},{"h":106,"v":700},{"h":108,"v":1800},{"h":110,"v":5000},{"h":112,"v":10000},{"h":114,"v":14000},{"h":115,"v":11000},{"h":117,"v":5000},{"h":119,"v":3500},{"h":121,"v":2500},{"h":122,"v":2500}
    ]},
    "mark": {"type": "line", "color": "#0000ff", "strokeWidth": 1.2, "clip": true},
    "encoding": {
     "x": {"field": "h", "type": "quantitative", "scale": {"domain": [0, 360], "nice": false, "zero": false}, "title": null, "axis": {"values": [0,24,48,72,96,120,144,168,192,216,240,264,288,312,336]}},
     "y": {"field": "v", "type": "quantitative", "title": "rt", "scale": {"type": "log", "domain": [10, 1e5], "nice": false}}}},
   {"data": {"values": [
{"h":0,"v":4900},{"h":2,"v":3500},{"h":4,"v":2000},{"h":6,"v":1260},{"h":8,"v":800},{"h":10,"v":1000},{"h":12,"v":1800},{"h":14,"v":2500},{"h":16,"v":4000},{"h":18,"v":5000},{"h":20,"v":4500},{"h":22,"v":3200},{"h":24,"v":3500},{"h":26,"v":2500},{"h":28,"v":4000},{"h":30,"v":3200},{"h":32,"v":4000},{"h":34,"v":3500},{"h":36,"v":4500},{"h":38,"v":4000},{"h":40,"v":5000},{"h":42,"v":5600},{"h":44,"v":7000},{"h":46,"v":6300},{"h":48,"v":5000},{"h":50,"v":4000},{"h":52,"v":3500},{"h":54,"v":3200},{"h":56,"v":3500},{"h":58,"v":3200},{"h":60,"v":4000},{"h":62,"v":5600},{"h":64,"v":7000},{"h":66,"v":6300},{"h":68,"v":5000},{"h":70,"v":3500},{"h":72,"v":3200},{"h":74,"v":2500},{"h":76,"v":2000},{"h":78,"v":1600},{"h":80,"v":1260},{"h":82,"v":2000},{"h":84,"v":2500},{"h":86,"v":4000},{"h":88,"v":7000},{"h":90,"v":10000},{"h":92,"v":5000},{"h":94,"v":2500},{"h":96,"v":2000},{"h":98,"v":1600},{"h":99,"v":630},{"h":100,"v":320},{"h":101,"v":160},{"h":102,"v":100},{"h":103,"v":250},{"h":104,"v":800},{"h":106,"v":1600},{"h":108,"v":3200},{"h":110,"v":5000},{"h":112,"v":8000},{"h":113,"v":10000},{"h":114,"v":6300},{"h":116,"v":4000},{"h":118,"v":2000},{"h":119,"v":400},{"h":120,"v":1260},{"h":121,"v":2000},{"h":122,"v":2000}
    ]},
    "mark": {"type": "line", "color": "#ff0000", "strokeWidth": 1.2, "clip": true},
    "encoding": {
     "x": {"field": "h", "type": "quantitative", "scale": {"domain": [0, 360], "nice": false, "zero": false}, "title": null, "axis": {"values": [0,24,48,72,96,120,144,168,192,216,240,264,288,312,336]}},
     "y": {"field": "v", "type": "quantitative", "title": "rt", "scale": {"type": "log", "domain": [10, 1e5], "nice": false}}}}
  ]
 },
 {"width": 583, "height": 45,
  "data": {"values": [
{"h":0,"v":2.9},{"h":2,"v":2.7},{"h":4,"v":2.8},{"h":6,"v":2.5},{"h":8,"v":2.6},{"h":10,"v":2.3},{"h":12,"v":2.4},{"h":14,"v":2.2},{"h":16,"v":2.1},{"h":18,"v":2.0},{"h":20,"v":1.8},{"h":22,"v":1.9},{"h":24,"v":1.7},{"h":26,"v":1.6},{"h":28,"v":1.5},{"h":30,"v":1.45},{"h":32,"v":1.3},{"h":34,"v":1.25},{"h":36,"v":1.2},{"h":38,"v":1.1},{"h":40,"v":1.05},{"h":42,"v":0.95},{"h":44,"v":0.85},{"h":46,"v":0.9},{"h":48,"v":0.8},{"h":50,"v":0.75},{"h":52,"v":0.8},{"h":54,"v":0.65},{"h":56,"v":0.7},{"h":58,"v":0.6},{"h":60,"v":0.55},{"h":62,"v":0.5},{"h":64,"v":0.55},{"h":66,"v":0.48},{"h":68,"v":0.5},{"h":70,"v":0.45},{"h":72,"v":0.42},{"h":74,"v":0.45},{"h":76,"v":0.4},{"h":78,"v":0.38},{"h":80,"v":0.35},{"h":82,"v":0.33},{"h":84,"v":0.3},{"h":86,"v":0.32},{"h":88,"v":0.28},{"h":90,"v":0.27},{"h":92,"v":0.25},{"h":94,"v":0.23},{"h":96,"v":0.24},{"h":98,"v":0.22},{"h":100,"v":0.21},{"h":102,"v":0.2},{"h":104,"v":0.2},{"h":106,"v":0.19},{"h":108,"v":0.25},{"h":110,"v":0.3},{"h":112,"v":0.32},{"h":114,"v":0.28},{"h":116,"v":0.24},{"h":118,"v":0.2},{"h":120,"v":0.17},{"h":122,"v":0.15}
  ]},
  "mark": {"type": "line", "color": "#0000ff", "strokeWidth": 1.2, "clip": true},
  "encoding": {
   "x": {"field": "h", "type": "quantitative", "scale": {"domain": [0, 360], "nice": false, "zero": false}, "title": "2026", "axis": {"values": [0,24,48,72,96,120,144,168,192,216,240,264,288,312,336], "labels": true, "labelOffset": 19.43, "labelPadding": 4, "labelFlush": false, "labelBound": false, "labelExpr": "timeFormat(datetime(2026, 0, 24 + datum.value / 24), '%-m/%e')", "titleX": -14, "titleY": 4, "titleAlign": "center", "titleBaseline": "top", "titleFontSize": 10, "titleFontWeight": "normal", "titleColor": "#111"}},
   "y": {"field": "v", "type": "quantitative", "title": null, "scale": {"type": "log", "domain": [0.1, 1e5], "nice": false}, "axis": {"values": [1, 100, 10000], "labelExpr": "'10' + ['⁰','¹','²','³','⁴','⁵','⁶','⁷','⁸'][round(log(datum.value) / LN10)]"}}
  }
 }
]
}
